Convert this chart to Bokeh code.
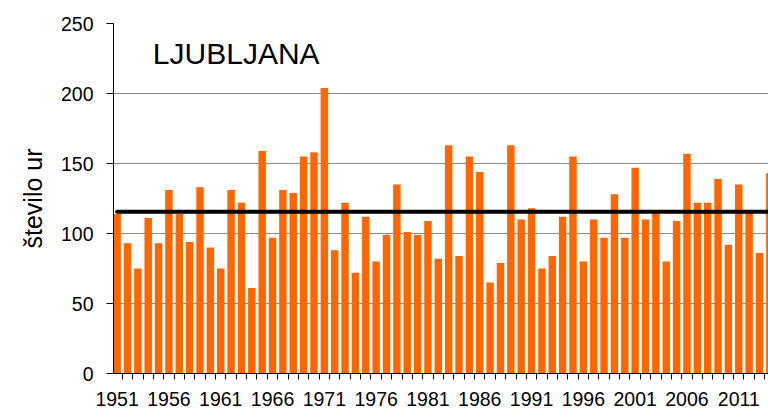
from bokeh.plotting import figure
from bokeh.models import ColumnDataSource, FixedTicker, Range1d, Label
from bokeh.embed import file_html
from bokeh.resources import INLINE

# ---- data ----
years = list(range(1951, 2015))
hours = [114, 93, 75, 111, 93, 131, 114, 94, 133, 90,
         75, 131, 122, 61, 159, 97, 131, 129, 155, 158,
         204, 88, 122, 72, 112, 80, 99, 135, 101, 99,
         109, 82, 163, 84, 155, 144, 65, 79, 163, 110,
         118, 75, 84, 112, 155, 80, 110, 97, 128, 97,
         147, 110, 115, 80, 109, 157, 122, 122, 139, 92,
         135, 115, 86, 143]
mean_value = 115.5
tick_years = list(range(1951, 2012, 5))
tick_labels = {y: str(y) for y in tick_years}
y_ticks = [0, 50, 100, 150, 200, 250]
station = "LJUBLJANA"
y_title = "število ur"

FONT = "Liberation Sans"
ORANGE = "#FF6600"

src = ColumnDataSource(dict(year=years, hours=hours))

p = figure(width=768, height=411, output_backend="svg", toolbar_location=None,
           x_range=Range1d(1950.65, 2013.87), y_range=Range1d(0, 250),
           min_border_left=113, min_border_top=23, min_border_bottom=38,
           min_border_right=0)
p.outline_line_color = None
p.background_fill_color = "white"
p.border_fill_color = "white"

p.vbar(x="year", top="hours", width=0.72, source=src,
       fill_color=ORANGE, line_color=None)

p.line(x=[years[0], years[-1]], y=[mean_value, mean_value],
       line_color="black", line_width=4, line_cap="round")

# grid
p.xgrid.visible = False
p.ygrid.ticker = FixedTicker(ticks=y_ticks)
p.ygrid.grid_line_color = "#8c8c8c"
p.ygrid.grid_line_width = 1

# x axis
xa = p.xaxis[0]
xa.ticker = FixedTicker(ticks=tick_years,
                        minor_ticks=[y - 0.5 for y in years] + [years[-1] + 0.5])
xa.major_label_overrides = tick_labels
xa.major_tick_out = 0
xa.major_tick_in = 0
xa.minor_tick_out = 6
xa.minor_tick_in = 0
xa.minor_tick_line_color = "black"
xa.axis_line_color = "black"
xa.major_label_standoff = 12
xa.major_label_text_font = FONT
xa.major_label_text_font_size = "19.5px"
xa.major_label_text_color = "black"

# y axis
ya = p.yaxis[0]
ya.ticker = FixedTicker(ticks=y_ticks)
ya.minor_tick_line_color = None
ya.major_tick_out = 7
ya.major_tick_in = 0
ya.axis_line_color = "black"
ya.major_tick_line_color = "black"
ya.major_label_standoff = 13
ya.major_label_text_font = FONT
ya.major_label_text_font_size = "19.5px"
ya.major_label_text_color = "black"
ya.axis_label = y_title
ya.axis_label_text_font = FONT
ya.axis_label_text_font_size = "25px"
ya.axis_label_text_font_style = "normal"
ya.axis_label_text_color = "black"
ya.axis_label_standoff = 11

title = Label(x=1954.45, y=228.5, text=station, text_font=FONT,
              text_font_size="30px", text_color="black",
              text_baseline="alphabetic", text_align="left")
p.add_layout(title)

open("out.html", "w").write(file_html(p, INLINE))
